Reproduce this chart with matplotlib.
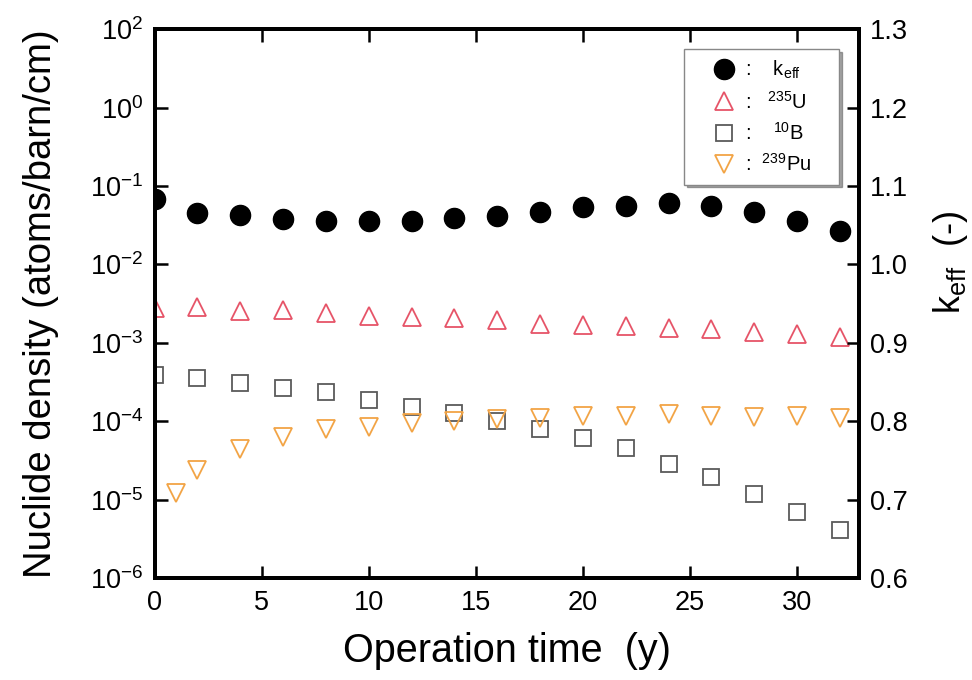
"""
Nuclide density and k_eff vs operation time.
Output: out.png (972x680)
"""
import matplotlib
matplotlib.use("Agg")
import matplotlib.pyplot as plt
from matplotlib.ticker import FixedLocator, NullLocator

# ---- Data ------------------------------------------------------------------
t_main = [0, 2, 4, 6, 8, 10, 12, 14, 16, 18, 20, 22, 24, 26, 28, 30, 32]
t_pu   = [1, 2, 4, 6, 8, 10, 12, 14, 16, 18, 20, 22, 24, 26, 28, 30, 32]

keff = [1.083, 1.065, 1.063, 1.058, 1.056, 1.055, 1.055, 1.059, 1.062,
        1.067, 1.073, 1.074, 1.078, 1.074, 1.067, 1.056, 1.043]
u235 = [2.82e-3, 2.85e-3, 2.55e-3, 2.60e-3, 2.38e-3, 2.23e-3, 2.15e-3,
        2.10e-3, 1.94e-3, 1.75e-3, 1.71e-3, 1.65e-3, 1.53e-3, 1.49e-3,
        1.38e-3, 1.28e-3, 1.19e-3]
b10  = [3.88e-4, 3.59e-4, 3.07e-4, 2.65e-4, 2.34e-4, 1.88e-4, 1.53e-4,
        1.26e-4, 9.98e-5, 7.96e-5, 6.11e-5, 4.55e-5, 2.82e-5, 1.94e-5,
        1.17e-5, 6.89e-6, 4.10e-6]
pu239 = [1.21e-5, 2.37e-5, 4.45e-5, 6.20e-5, 7.91e-5, 8.51e-5, 9.62e-5,
         1.01e-4, 1.08e-4, 1.09e-4, 1.18e-4, 1.16e-4, 1.23e-4, 1.15e-4,
         1.13e-4, 1.16e-4, 1.10e-4]

# tick labels as printed on the original figure (top label reads 10^2)
y_ticks = [1e-6, 1e-5, 1e-4, 1e-3, 1e-2, 1e-1, 1e0, 1e1]
y_labels = [r"$10^{-6}$", r"$10^{-5}$", r"$10^{-4}$", r"$10^{-3}$",
            r"$10^{-2}$", r"$10^{-1}$", r"$10^{0}$", r"$10^{2}$"]
x_ticks = [0, 5, 10, 15, 20, 25, 30]
k_ticks = [0.6, 0.7, 0.8, 0.9, 1.0, 1.1, 1.2, 1.3]

# ---- Style -----------------------------------------------------------------
plt.rcParams["font.family"] = ["Liberation Sans", "DejaVu Sans"]
plt.rcParams["mathtext.fontset"] = "custom"
plt.rcParams["mathtext.rm"] = "Liberation Sans"
plt.rcParams["mathtext.it"] = "Liberation Sans:italic"
plt.rcParams["mathtext.default"] = "regular"
plt.rcParams["axes.unicode_minus"] = False

C_U = "#e65468"
C_B = "#5a5a5a"
C_PU = "#f2a445"
LW_SPINE = 2.8
TICK_FS = 19.5


def main():
    fig = plt.figure(figsize=(9.72, 6.8), dpi=100)
    ax = fig.add_axes([0.159, 0.150, 0.725, 0.807])
    ax2 = ax.twinx()

    ax.plot(t_main, u235, ls="none", marker="^", ms=13.5, mfc="none",
            mec=C_U, mew=1.3)
    ax.plot(t_main, b10, ls="none", marker="s", ms=12, mfc="none",
            mec=C_B, mew=1.3)
    ax.plot(t_pu, pu239, ls="none", marker="v", ms=13.5, mfc="none",
            mec=C_PU, mew=1.3)
    ax2.plot(t_main, keff, ls="none", marker="o", ms=14.5, color="black")

    ax.set_yscale("log")
    ax.set_ylim(1e-6, 1e1)
    ax.set_xlim(0, 32.9)
    ax2.set_ylim(0.6, 1.3)

    ax.yaxis.set_major_locator(FixedLocator(y_ticks))
    ax.yaxis.set_minor_locator(NullLocator())
    ax.set_yticklabels(y_labels)
    ax.set_xticks(x_ticks)
    ax2.set_yticks(k_ticks)
    ax2.set_yticklabels([f"{v:.1f}" for v in k_ticks])

    for a in (ax, ax2):
        for s in a.spines.values():
            s.set_linewidth(LW_SPINE)
        a.tick_params(direction="in", length=9, width=1.8,
                      labelsize=TICK_FS, pad=8)
    ax.tick_params(axis="x", top=True, labeltop=False, pad=9)
    ax.tick_params(axis="y", right=False)

    ax.set_xlabel("Operation time  (y)", fontsize=28.5, labelpad=11)
    ax.set_ylabel("Nuclide density (atoms/barn/cm)", fontsize=27.5,
                  labelpad=22)
    ax2.set_ylabel(r"k$_{eff}$  (-)", fontsize=26)
    ax2.yaxis.set_label_coords(1.102, 0.576)

    # ---- Legend ------------------------------------------------------------
    h_k, = ax.plot([], [], ls="none", marker="o", ms=14.5, color="black")
    h_u, = ax.plot([], [], ls="none", marker="^", ms=13.5, mfc="none",
                   mec=C_U, mew=1.3)
    h_b, = ax.plot([], [], ls="none", marker="s", ms=12, mfc="none",
                   mec=C_B, mew=1.3)
    h_p, = ax.plot([], [], ls="none", marker="v", ms=13.5, mfc="none",
                   mec=C_PU, mew=1.3)
    labels = [r":    k$_{eff}$    ", r":   $^{235}$U    ",
              r":    $^{10}$B    ", r":  $^{239}$Pu    "]
    leg = ax2.legend([h_k, h_u, h_b, h_p], labels, loc="upper right",
                     bbox_to_anchor=(0.9716, 0.9636), fontsize=14.5,
                     frameon=True, fancybox=False, shadow=True,
                     labelspacing=0.47, handlelength=3.03,
                     handletextpad=-0.45, borderpad=0.47, borderaxespad=0)
    leg.get_frame().set_edgecolor("#888888")
    leg.get_frame().set_linewidth(1.0)

    fig.savefig("out.png", dpi=100)
    plt.close(fig)


if __name__ == "__main__":
    main()
